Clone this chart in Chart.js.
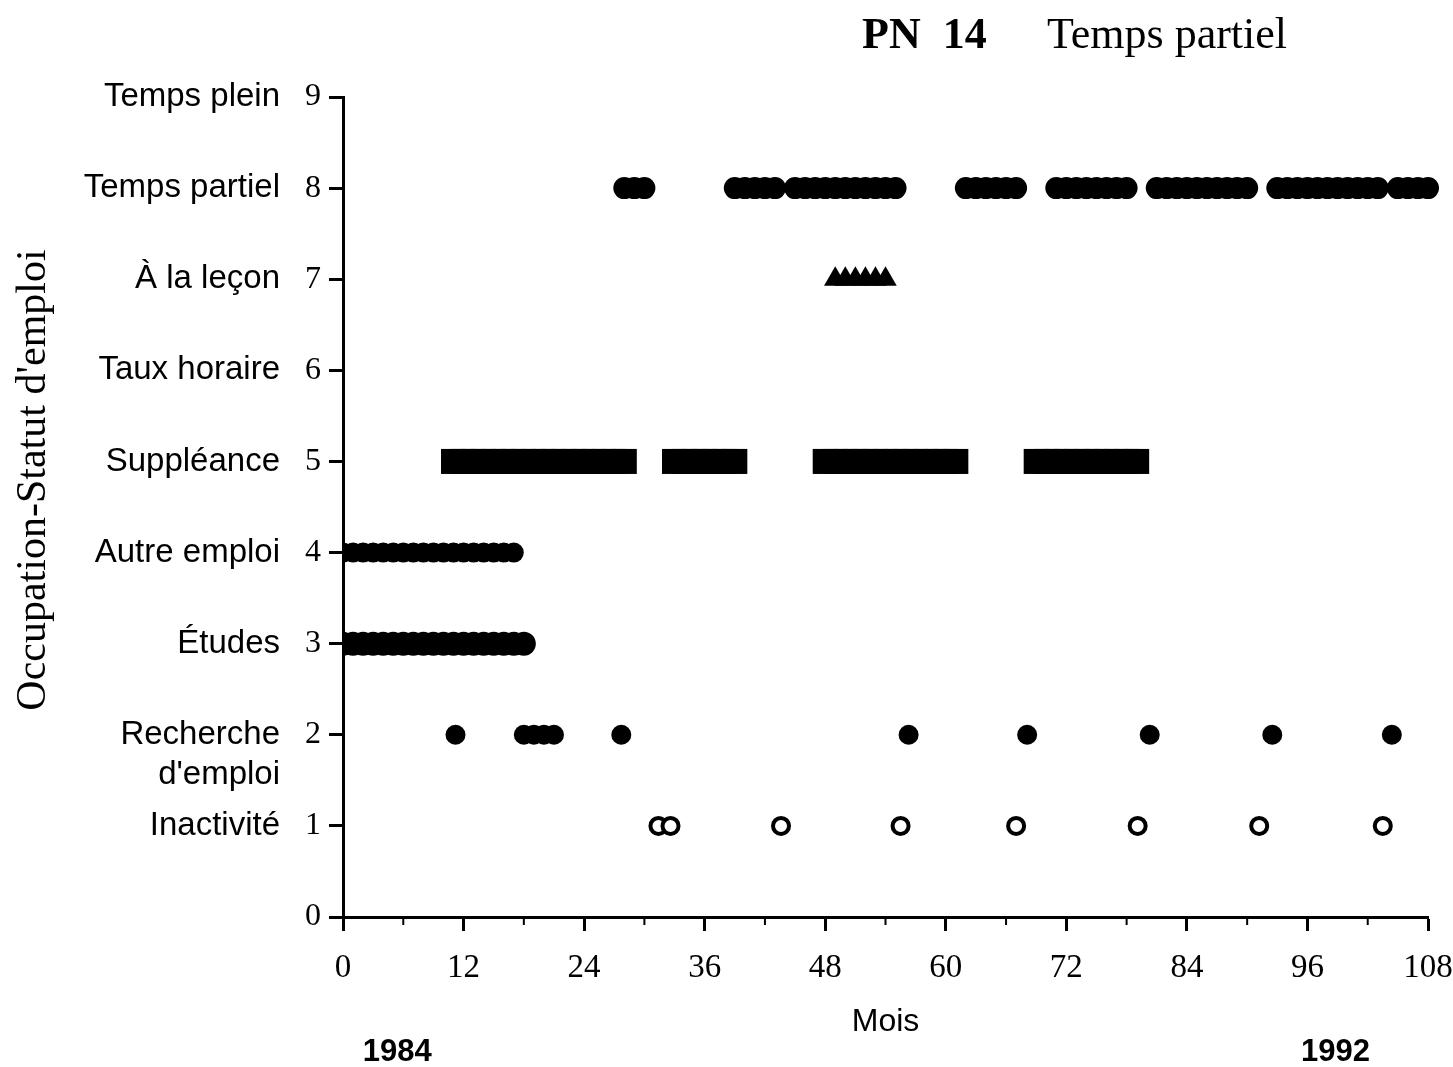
<!DOCTYPE html>
<html>
<head>
<meta charset="utf-8">
<script src="https://cdn.jsdelivr.net/npm/chart.js@4.4.1/dist/chart.umd.min.js"></script>
<style>
  html, body { margin: 0; padding: 0; background: #fff; }
  #wrap { width: 1453px; height: 1067px; }
</style>
</head>
<body>
<div id="wrap"><canvas id="myChart" width="1453" height="1067"></canvas></div>
<script>
// statuts d'emploi, niveau 1 a 9
const categories = ["Inactivité", "Recherche\nd'emploi", "Études", "Autre emploi", "Suppléance",
  "Taux horaire", "À la leçon", "Temps partiel", "Temps plein"];
const xTicks = [0, 12, 24, 36, 48, 60, 72, 84, 96, 108];
const years = ["1984", "1992"];

// mois observes pour chaque statut
const tempsPartielMois = [28, 29, 30, 39, 40, 41, 42, 43, 45, 46, 47, 48, 49, 50, 51, 52, 53, 54, 55,
  62, 63, 64, 65, 66, 67, 71, 72, 73, 74, 75, 76, 77, 78, 81, 82, 83, 84, 85, 86, 87, 88, 89, 90,
  93, 94, 95, 96, 97, 98, 99, 100, 101, 102, 103, 105, 106, 107, 108];
const aLaLeconMois = [49, 50, 51, 52, 53, 54];
const suppleanceMois = [11, 12, 13, 14, 15, 16, 17, 18, 19, 20, 21, 22, 23, 24, 25, 26, 27, 28,
  33, 34, 35, 36, 37, 38, 39, 48, 49, 50, 51, 52, 53, 54, 55, 56, 57, 58, 59, 60, 61,
  69, 70, 71, 72, 73, 74, 75, 76, 77, 78, 79];
const autreEmploiMois = [0, 1, 2, 3, 4, 5, 6, 7, 8, 9, 10, 11, 12, 13, 14, 15, 16, 17];
const etudesMois = [0, 1, 2, 3, 4, 5, 6, 7, 8, 9, 10, 11, 12, 13, 14, 15, 16, 17, 18];
const rechercheMois = [11.2, 18, 19, 20, 21, 27.7, 56.3, 68.1, 80.3, 92.5, 104.4];
const inactiviteMois = [31.4, 32.6, 43.6, 55.5, 67, 79.1, 91.2, 103.5];

function pts(mois, niveau) {
  return mois.map(function (m) { return { x: m, y: niveau }; });
}

const noClip = { left: 0, right: false, top: false, bottom: false };
const serif = "'Liberation Serif', 'Times New Roman', serif";
const sans = "'Liberation Sans', Arial, sans-serif";

const extras = {
  id: "extras",
  afterDraw(chart) {
    const ctx = chart.ctx;
    const xs = chart.scales.x, ys = chart.scales.y;
    ctx.save();
    ctx.fillStyle = "#000";
    ctx.strokeStyle = "#000";

    // petits traits tous les 6 mois
    ctx.lineWidth = 2;
    for (let m = 6; m < 108; m += 12) {
      const px = xs.getPixelForValue(m);
      ctx.beginPath();
      ctx.moveTo(px, xs.top);
      ctx.lineTo(px, xs.top + 8);
      ctx.stroke();
    }

    // noms des statuts
    ctx.font = "33px " + sans;
    ctx.textAlign = "right";
    ctx.textBaseline = "middle";
    categories.forEach(function (c, i) {
      const py = ys.getPixelForValue(i + 1);
      c.split("\n").forEach(function (line, j) {
        ctx.fillText(line, 280, py + j * 40);
      });
    });

    // titre de l'axe vertical
    ctx.save();
    ctx.translate(34, 480);
    ctx.rotate(-Math.PI / 2);
    ctx.textAlign = "center";
    ctx.font = "42px " + serif;
    ctx.fillText("Occupation-Statut d'emploi", 0, 0);
    ctx.restore();

    // titre
    ctx.textAlign = "left";
    ctx.textBaseline = "alphabetic";
    ctx.font = "bold 44px " + serif;
    ctx.fillText("PN  14", 862, 48);
    ctx.font = "44px " + serif;
    ctx.fillText("Temps partiel", 1047, 48);

    // annees
    ctx.font = "bold 31px " + sans;
    ctx.textAlign = "center";
    ctx.textBaseline = "middle";
    ctx.fillText(years[0], xs.getPixelForValue(5.4), 1052);
    ctx.fillText(years[1], xs.getPixelForValue(98.8), 1052);
    ctx.restore();
  }
};

new Chart(document.getElementById("myChart").getContext("2d"), {
  type: "scatter",
  data: {
    datasets: [
      { data: pts(tempsPartielMois, 8), pointStyle: "circle", pointRadius: 11, backgroundColor: "#000", borderWidth: 0, clip: noClip },
      { data: pts(aLaLeconMois, 7), pointStyle: "triangle", pointRadius: 13, backgroundColor: "#000", borderWidth: 0, clip: noClip },
      { data: pts(suppleanceMois, 5), pointStyle: "rect", pointRadius: 17.7, backgroundColor: "#000", borderWidth: 0, clip: noClip },
      { data: pts(autreEmploiMois, 4), pointStyle: "circle", pointRadius: 10, backgroundColor: "#000", borderWidth: 0, clip: noClip },
      { data: pts(etudesMois, 3), pointStyle: "circle", pointRadius: 12, backgroundColor: "#000", borderWidth: 0, clip: noClip },
      { data: pts(rechercheMois, 2), pointStyle: "circle", pointRadius: 10, backgroundColor: "#000", borderWidth: 0, clip: noClip },
      { data: pts(inactiviteMois, 1), pointStyle: "circle", pointRadius: 8, backgroundColor: "#fff", borderColor: "#000", borderWidth: 4, clip: noClip }
    ]
  },
  options: {
    responsive: false,
    animation: false,
    devicePixelRatio: 1,
    layout: { padding: { top: 97, right: 25, left: 0, bottom: 0 } },
    plugins: { legend: { display: false }, tooltip: { enabled: false } },
    scales: {
      x: {
        type: "linear",
        min: 0,
        max: 108,
        afterFit: function (s) { s.height = 150; s.paddingLeft = 0; s.paddingRight = 0; },
        afterBuildTicks: function (s) { s.ticks = xTicks.map(function (v) { return { value: v }; }); },
        ticks: { color: "#000", font: { family: serif, size: 33 }, padding: 18, maxRotation: 0 },
        grid: { drawOnChartArea: false, drawTicks: true, tickLength: 14, tickWidth: 3, tickColor: "#000" },
        border: { display: true, color: "#000", width: 3 },
        title: { display: true, text: "Mois", color: "#000", font: { family: sans, size: 32 }, padding: { bottom: 26 } }
      },
      y: {
        type: "linear",
        min: 0,
        max: 9,
        afterFit: function (s) { s.width = 343; s.paddingTop = 0; s.paddingBottom = 0; },
        ticks: { stepSize: 1, color: "#000", font: { family: serif, size: 32 }, padding: 8 },
        grid: { drawOnChartArea: false, drawTicks: true, tickLength: 14, tickWidth: 3, tickColor: "#000" },
        border: { display: true, color: "#000", width: 3 }
      }
    }
  },
  plugins: [extras]
});
</script>
</body>
</html>
